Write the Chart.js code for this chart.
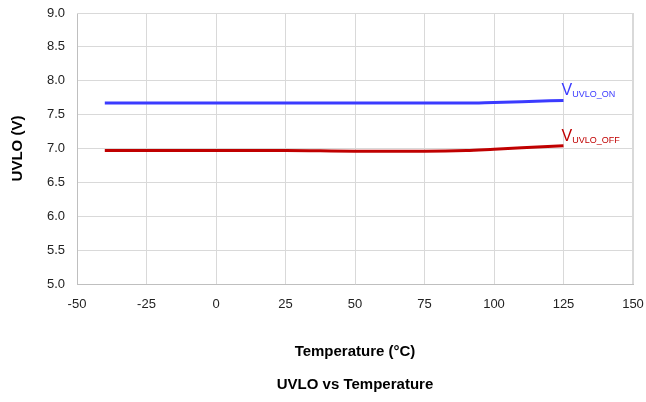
<!DOCTYPE html>
<html>
<head>
<meta charset="utf-8">
<script src="https://cdn.jsdelivr.net/npm/chart.js@4/dist/chart.umd.min.js"></script>
<style>
html,body{margin:0;padding:0;background:#fff;}
#wrap{width:646px;height:402px;}
</style>
</head>
<body>
<div id="wrap"><canvas id="c" width="646" height="402"></canvas></div>
<script>
const temperatures = [-40, -25, 0, 25, 50, 75, 90, 100, 110, 125];
const uvloOn  = [7.67, 7.67, 7.67, 7.67, 7.67, 7.67, 7.67, 7.68, 7.69, 7.71];
const uvloOff = [6.97, 6.97, 6.97, 6.97, 6.96, 6.96, 6.97, 6.99, 7.01, 7.04];
const xTicks = [-50, -25, 0, 25, 50, 75, 100, 125, 150];
const yTicks = [5.0, 5.5, 6.0, 6.5, 7.0, 7.5, 8.0, 8.5, 9.0];
const seriesLabels = [["V", "UVLO_ON"], ["V", "UVLO_OFF"]];
const chartTitle = 'UVLO vs Temperature';

const FONT = "'Liberation Sans', Arial, sans-serif";

const endLabels = {
  id: 'endLabels',
  afterDatasetsDraw(chart) {
    const ctx = chart.ctx;
    chart.data.datasets.forEach((ds, i) => {
      const meta = chart.getDatasetMeta(i);
      const pt = meta.data[meta.data.length - 1];
      const [big, sub] = seriesLabels[i];
      ctx.save();
      ctx.fillStyle = ds.borderColor;
      ctx.textBaseline = 'alphabetic';
      ctx.textAlign = 'left';
      ctx.font = '16px ' + FONT;
      const x0 = pt.x - 2, y0 = pt.y - 5;
      ctx.fillText(big, x0, y0);
      const w = ctx.measureText(big).width;
      ctx.font = '9px ' + FONT;
      ctx.fillText(sub, x0 + w, y0 + 2);
      ctx.restore();
    });
  }
};

const bottomTitle = {
  id: 'bottomTitle',
  afterDraw(chart) {
    const a = chart.chartArea, ctx = chart.ctx;
    ctx.save();
    ctx.fillStyle = '#000';
    ctx.font = 'bold 15px ' + FONT;
    ctx.textAlign = 'center';
    ctx.textBaseline = 'middle';
    ctx.fillText(chartTitle, (a.left + a.right) / 2, 385);
    ctx.restore();
  }
};

new Chart(document.getElementById('c'), {
  type: 'line',
  data: {
    datasets: [
      { data: temperatures.map((t, i) => ({x: t, y: uvloOn[i]})), borderColor: '#3b3bff', borderWidth: 3, pointRadius: 0, cubicInterpolationMode: 'monotone' },
      { data: temperatures.map((t, i) => ({x: t, y: uvloOff[i]})), borderColor: '#c00000', borderWidth: 3, pointRadius: 0, cubicInterpolationMode: 'monotone' }
    ]
  },
  options: {
    responsive: false,
    animation: false,
    layout: { padding: { left: 0, right: 13, top: 13, bottom: 34 } },
    plugins: {
      legend: { display: false },
      tooltip: { enabled: false },
      title: { display: false }
    },
    scales: {
      x: {
        type: 'linear', min: -50, max: 150,
        afterBuildTicks: s => { s.ticks = xTicks.map(v => ({value: v})); },
        afterFit: s => { s.height = 84; s.paddingLeft = 0; s.paddingRight = 0; },
        ticks: { color: '#222', font: { family: FONT, size: 13 }, padding: 13, maxRotation: 0 },
        grid: { color: '#d9d9d9', drawTicks: false },
        border: { color: '#bfbfbf' },
        title: { display: true, text: 'Temperature (°C)', color: '#000', font: { family: FONT, size: 15, weight: 'bold', lineHeight: 1.2 }, padding: { top: 0, bottom: 7 } }
      },
      y: {
        type: 'linear', min: 5, max: 9,
        afterBuildTicks: s => { s.ticks = yTicks.map(v => ({value: v})); },
        afterFit: s => { s.width = 77; s.paddingTop = 0; s.paddingBottom = 0; },
        ticks: { color: '#222', font: { family: FONT, size: 13 }, padding: 12, callback: v => v.toFixed(1) },
        grid: { color: '#d9d9d9', drawTicks: false },
        border: { color: '#bfbfbf' },
        title: { display: true, text: 'UVLO (V)', color: '#000', font: { family: FONT, size: 15, weight: 'bold', lineHeight: 1.2 }, padding: { top: 9, bottom: 0 } }
      }
    }
  },
  plugins: [endLabels, bottomTitle, {
    id: 'frame',
    afterDraw(chart) {
      const a = chart.chartArea, ctx = chart.ctx;
      ctx.save();
      ctx.strokeStyle = '#d9d9d9'; ctx.lineWidth = 1;
      ctx.beginPath();
      ctx.moveTo(a.left, a.top + 0.5); ctx.lineTo(a.right, a.top + 0.5);
      ctx.moveTo(a.right - 0.5, a.top); ctx.lineTo(a.right - 0.5, a.bottom);
      ctx.stroke();
      ctx.restore();
    }
  }]
});
</script>
</body>
</html>
